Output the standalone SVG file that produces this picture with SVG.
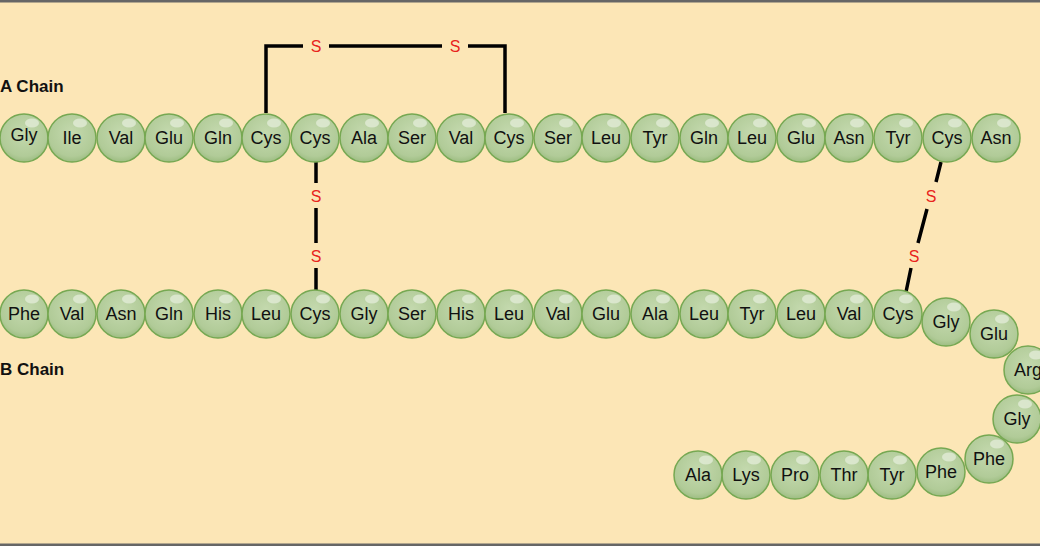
<svg xmlns="http://www.w3.org/2000/svg" width="1040" height="546" viewBox="0 0 1040 546">
<defs>
<radialGradient id="g" cx="0.5" cy="0.4" r="0.6"><stop offset="0" stop-color="#c4d9ae"/><stop offset="0.8" stop-color="#b1cb98"/><stop offset="1" stop-color="#9dbd82"/></radialGradient>
<g id="b"><circle r="24" fill="url(#g)" stroke="#76a852" stroke-width="1.5"/><ellipse cx="8" cy="-15" rx="7" ry="4.5" fill="#dfead3" opacity="0.85"/></g>
</defs>
<style>
text{font-family:"Liberation Sans",Arial,sans-serif}
.t{font-size:18px;text-anchor:middle;fill:#111}
.s{font-size:16px;text-anchor:middle;fill:#e8231c}
.l{font-size:17px;font-weight:bold;fill:#111}
.k{stroke:#000;stroke-width:3.5;fill:none}
</style>
<rect width="1040" height="546" fill="#fce6b6"/>
<rect x="0" y="0" width="1040" height="2.5" fill="#666"/>
<rect x="0" y="543.5" width="1040" height="2.5" fill="#666"/>
<text class="l" x="0" y="92">A Chain</text>
<text class="l" x="0" y="375">B Chain</text>
<g id="connectors">
<path class="k" d="M266,113 V46 H303 M329,46 H442 M468,46 H505 V113"/>
<path class="k" d="M316,162 V183 M316,208 V243 M316,268 V290"/>
<path class="k" d="M941,162 L936,182 M927,209 L918,243 M911,268 L906,292"/>
<text class="s" x="316" y="52">S</text><text class="s" x="455" y="52">S</text>
<text class="s" x="316" y="202">S</text><text class="s" x="316" y="262">S</text>
<text class="s" x="931" y="202">S</text><text class="s" x="914" y="262">S</text>
</g>
<g id="a1"><use href="#b" x="24" y="138"/><text class="t" x="24" y="141">Gly</text></g>
<g id="a2"><use href="#b" x="72" y="138"/><text class="t" x="72" y="144">Ile</text></g>
<g id="a3"><use href="#b" x="121" y="138"/><text class="t" x="121" y="144">Val</text></g>
<g id="a4"><use href="#b" x="169" y="138"/><text class="t" x="169" y="144">Glu</text></g>
<g id="a5"><use href="#b" x="218" y="138"/><text class="t" x="218" y="144">Gln</text></g>
<g id="a6"><use href="#b" x="266" y="138"/><text class="t" x="266" y="144">Cys</text></g>
<g id="a7"><use href="#b" x="315" y="138"/><text class="t" x="315" y="144">Cys</text></g>
<g id="a8"><use href="#b" x="364" y="138"/><text class="t" x="364" y="144">Ala</text></g>
<g id="a9"><use href="#b" x="412" y="138"/><text class="t" x="412" y="144">Ser</text></g>
<g id="a10"><use href="#b" x="461" y="138"/><text class="t" x="461" y="144">Val</text></g>
<g id="a11"><use href="#b" x="509" y="138"/><text class="t" x="509" y="144">Cys</text></g>
<g id="a12"><use href="#b" x="558" y="138"/><text class="t" x="558" y="144">Ser</text></g>
<g id="a13"><use href="#b" x="606" y="138"/><text class="t" x="606" y="144">Leu</text></g>
<g id="a14"><use href="#b" x="655" y="138"/><text class="t" x="655" y="144">Tyr</text></g>
<g id="a15"><use href="#b" x="704" y="138"/><text class="t" x="704" y="144">Gln</text></g>
<g id="a16"><use href="#b" x="752" y="138"/><text class="t" x="752" y="144">Leu</text></g>
<g id="a17"><use href="#b" x="801" y="138"/><text class="t" x="801" y="144">Glu</text></g>
<g id="a18"><use href="#b" x="849" y="138"/><text class="t" x="849" y="144">Asn</text></g>
<g id="a19"><use href="#b" x="898" y="138"/><text class="t" x="898" y="144">Tyr</text></g>
<g id="a20"><use href="#b" x="947" y="138"/><text class="t" x="947" y="144">Cys</text></g>
<g id="a21"><use href="#b" x="996" y="138"/><text class="t" x="996" y="144">Asn</text></g>
<g id="b1"><use href="#b" x="24" y="314"/><text class="t" x="24" y="320">Phe</text></g>
<g id="b2"><use href="#b" x="72" y="314"/><text class="t" x="72" y="320">Val</text></g>
<g id="b3"><use href="#b" x="121" y="314"/><text class="t" x="121" y="320">Asn</text></g>
<g id="b4"><use href="#b" x="169" y="314"/><text class="t" x="169" y="320">Gln</text></g>
<g id="b5"><use href="#b" x="218" y="314"/><text class="t" x="218" y="320">His</text></g>
<g id="b6"><use href="#b" x="266" y="314"/><text class="t" x="266" y="320">Leu</text></g>
<g id="b7"><use href="#b" x="315" y="314"/><text class="t" x="315" y="320">Cys</text></g>
<g id="b8"><use href="#b" x="364" y="314"/><text class="t" x="364" y="320">Gly</text></g>
<g id="b9"><use href="#b" x="412" y="314"/><text class="t" x="412" y="320">Ser</text></g>
<g id="b10"><use href="#b" x="461" y="314"/><text class="t" x="461" y="320">His</text></g>
<g id="b11"><use href="#b" x="509" y="314"/><text class="t" x="509" y="320">Leu</text></g>
<g id="b12"><use href="#b" x="558" y="314"/><text class="t" x="558" y="320">Val</text></g>
<g id="b13"><use href="#b" x="606" y="314"/><text class="t" x="606" y="320">Glu</text></g>
<g id="b14"><use href="#b" x="655" y="314"/><text class="t" x="655" y="320">Ala</text></g>
<g id="b15"><use href="#b" x="704" y="314"/><text class="t" x="704" y="320">Leu</text></g>
<g id="b16"><use href="#b" x="752" y="314"/><text class="t" x="752" y="320">Tyr</text></g>
<g id="b17"><use href="#b" x="801" y="314"/><text class="t" x="801" y="320">Leu</text></g>
<g id="b18"><use href="#b" x="849" y="314"/><text class="t" x="849" y="320">Val</text></g>
<g id="b19"><use href="#b" x="898" y="314"/><text class="t" x="898" y="320">Cys</text></g>
<g id="b20"><use href="#b" x="946" y="322"/><text class="t" x="946" y="328">Gly</text></g>
<g id="b21"><use href="#b" x="994" y="334"/><text class="t" x="994" y="340">Glu</text></g>
<g id="b22"><use href="#b" x="1028" y="370"/><text class="t" x="1028" y="376">Arg</text></g>
<g id="b23"><use href="#b" x="1017" y="419"/><text class="t" x="1017" y="425">Gly</text></g>
<g id="b24"><use href="#b" x="989" y="459"/><text class="t" x="989" y="465">Phe</text></g>
<g id="b25"><use href="#b" x="941" y="472"/><text class="t" x="941" y="478">Phe</text></g>
<g id="b26"><use href="#b" x="892" y="475"/><text class="t" x="892" y="481">Tyr</text></g>
<g id="b27"><use href="#b" x="844" y="475"/><text class="t" x="844" y="481">Thr</text></g>
<g id="b28"><use href="#b" x="795" y="475"/><text class="t" x="795" y="481">Pro</text></g>
<g id="b29"><use href="#b" x="746" y="475"/><text class="t" x="746" y="481">Lys</text></g>
<g id="b30"><use href="#b" x="698" y="475"/><text class="t" x="698" y="481">Ala</text></g>
</svg>
